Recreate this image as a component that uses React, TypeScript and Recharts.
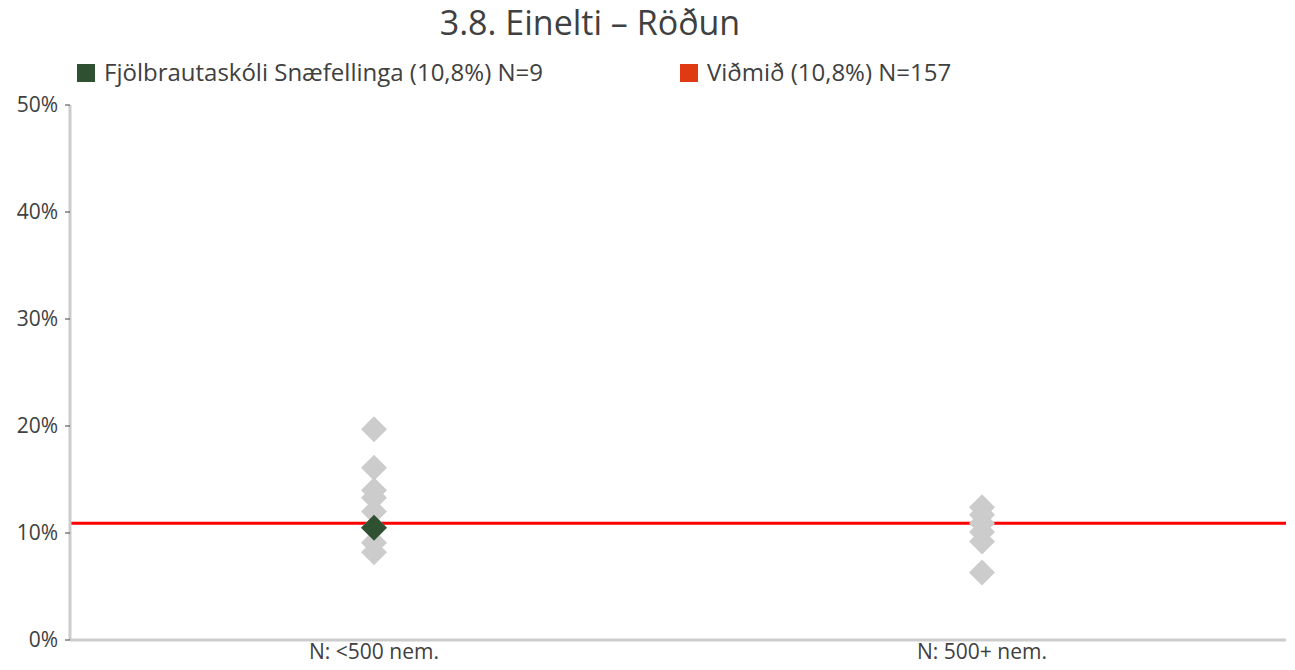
import React from "react";
import { ScatterChart, Scatter, XAxis, YAxis, ReferenceLine } from "recharts";

const categories = ["N: <500 nem.", "N: 500+ nem."];
const smallSchools = [19.7, 16.1, 14.0, 13.3, 12.0, 10.5, 9.1, 8.2];
const largeSchools = [12.4, 11.7, 10.9, 10.1, 9.2, 6.3];
const schoolValue = 10.5;
const benchmark = 10.9;
const yTicks = [0, 10, 20, 30, 40, 50];
const title = "3.8. Einelti – Röðun";
const legendSchool = "Fjölbrautaskóli Snæfellinga (10,8%) N=9";
const legendBenchmark = "Viðmið (10,8%) N=157";

const greyData = [
  ...smallSchools.map((y) => ({ x: categories[0], y })),
  ...largeSchools.map((y) => ({ x: categories[1], y })),
];
const greenData = [{ x: categories[0], y: schoolValue }];

const FONT = "'Open Sans', 'Noto Sans', sans-serif";
const TEXT = "#404040";

const diamond = (color: string) => (props: any) => {
  const { cx, cy } = props;
  const r = 13;
  return (
    <polygon
      points={`${cx},${cy - r} ${cx + r},${cy} ${cx},${cy + r} ${cx - r},${cy}`}
      fill={color}
    />
  );
};

export default function App() {
  return (
    <div
      style={{
        position: "absolute",
        left: 0,
        top: 0,
        width: 1295,
        height: 670,
        overflow: "hidden",
        background: "#fff",
        fontFamily: FONT,
        color: TEXT,
      }}
    >
      <div
        style={{
          position: "absolute",
          left: 0,
          width: 1180,
          top: 2,
          textAlign: "center",
          fontSize: 34,
          lineHeight: "40px",
        }}
      >
        {title}
      </div>
      <div style={{ position: "absolute", left: 77, top: 64, width: 18, height: 18, background: "#2F5132" }} />
      <div style={{ position: "absolute", left: 104, top: 58, fontSize: 24, lineHeight: "28px", whiteSpace: "nowrap" }}>
        {legendSchool}
      </div>
      <div style={{ position: "absolute", left: 680, top: 64, width: 18, height: 18, background: "#E03A14" }} />
      <div style={{ position: "absolute", left: 707, top: 58, fontSize: 24, lineHeight: "28px", whiteSpace: "nowrap" }}>
        {legendBenchmark}
      </div>
      <div style={{ position: "absolute", left: 0, top: 0 }}>
        <ScatterChart width={1295} height={670} margin={{ top: 105, right: 9, left: 0, bottom: 0 }}>
          <XAxis
            type="category"
            dataKey="x"
            allowDuplicatedCategory={false}
            axisLine={{ stroke: "#cccccc", strokeWidth: 3 }}
            tickLine={false}
            height={30}
            tick={{ fill: TEXT, fontSize: 21, fontFamily: FONT }}
            tickSize={4}
            tickMargin={0}
          />
          <YAxis
            type="number"
            dataKey="y"
            domain={[0, 50]}
            ticks={yTicks}
            width={70}
            tickFormatter={(v: number) => `${v}%`}
            axisLine={{ stroke: "#cccccc", strokeWidth: 3 }}
            tickLine={{ stroke: TEXT }}
            tickSize={5}
            tickMargin={7}
            tick={{ fill: TEXT, fontSize: 21, fontFamily: FONT }}
          />
          <Scatter data={greyData} shape={diamond("#cccccc")} isAnimationActive={false} />
          <ReferenceLine y={benchmark} stroke="#ff0000" strokeWidth={3} />
          <Scatter data={greenData} shape={diamond("#2F5132")} isAnimationActive={false} />
        </ScatterChart>
      </div>
    </div>
  );
}
